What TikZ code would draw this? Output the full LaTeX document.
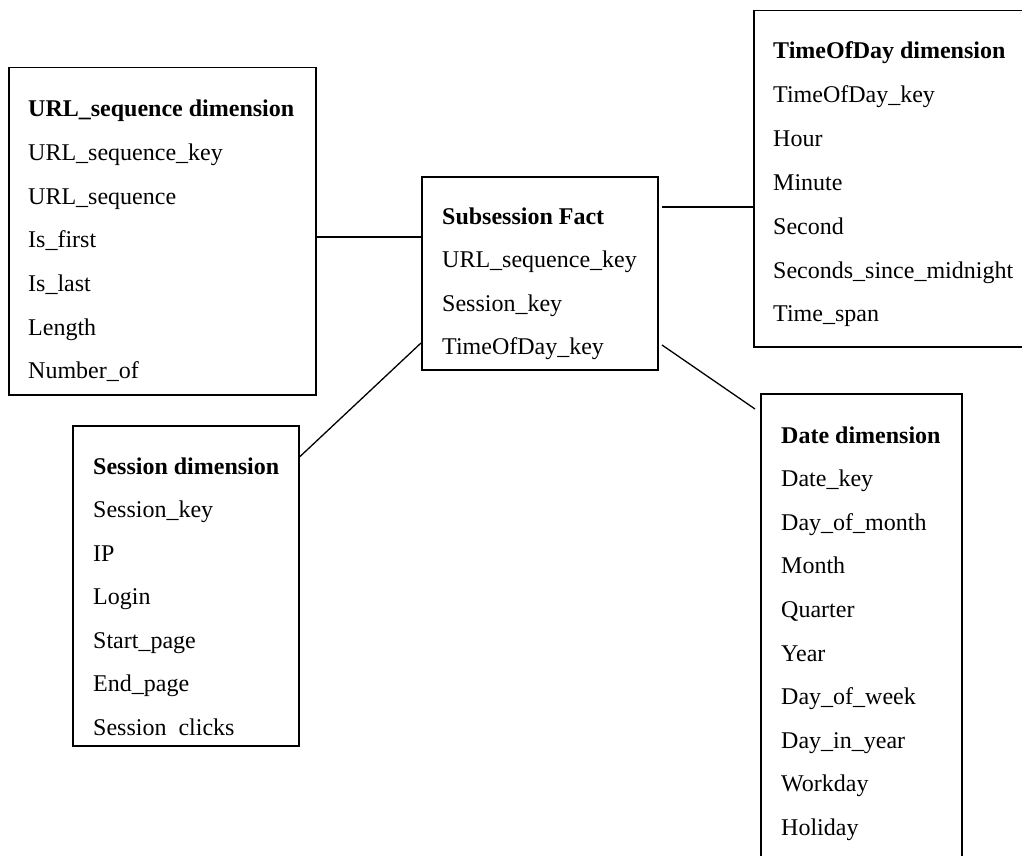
\documentclass[tikz,border=0pt]{standalone}
\usepackage{fontspec}
\setmainfont{Liberation Serif}
\begin{document}
\begin{tikzpicture}[x=1pt,y=-1pt,
  box/.style={draw, line width=1.5pt, rectangle, anchor=north west, inner sep=0pt},
  txt/.style={anchor=base west, inner sep=0pt, font=\fontsize{24}{28}\selectfont},
  ttl/.style={txt, font=\fontsize{24}{28}\selectfont\bfseries},
  conn/.style={line width=1.3pt}]
\useasboundingbox (0,0) rectangle (1022,856);
\clip (0,0) rectangle (1022,856);
% boxes
\node[box, minimum width=307pt, minimum height=327pt] (url) at (8,67) {};
\node[box, minimum width=236pt, minimum height=193pt] (fact) at (421,176) {};
\node[box, minimum width=300pt, minimum height=336pt] (time) at (753,10) {};
\node[box, minimum width=226pt, minimum height=320pt] (sess) at (72,425) {};
\node[box, minimum width=201pt, minimum height=500pt] (date) at (760,393) {};
% URL_sequence dimension
\node[ttl] (u0) at (28,117) {URL\_sequence dimension};
\node[txt] (u1) at (28,160.6) {URL\_sequence\_key};
\node[txt] (u2) at (28,204.2) {URL\_sequence};
\node[txt] (u3) at (28,247.8) {Is\_first};
\node[txt] (u4) at (28,291.4) {Is\_last};
\node[txt] (u5) at (28,335) {Length};
\node[txt] (u6) at (28,378.6) {Number\_of};
% Subsession Fact
\node[ttl] (f0) at (442,224) {Subsession Fact};
\node[txt] (f1) at (442,267.6) {URL\_sequence\_key};
\node[txt] (f2) at (442,311.2) {Session\_key};
\node[txt] (f3) at (442,354.8) {TimeOfDay\_key};
% TimeOfDay dimension
\node[ttl] (t0) at (773,59) {TimeOfDay dimension};
\node[txt] (t1) at (773,102.8) {TimeOfDay\_key};
\node[txt] (t2) at (773,146.6) {Hour};
\node[txt] (t3) at (773,190.4) {Minute};
\node[txt] (t4) at (773,234.2) {Second};
\node[txt] (t5) at (773,278) {Seconds\_since\_midnight};
\node[txt] (t6) at (773,321.8) {Time\_span};
% Session dimension
\node[ttl] (s0) at (93,474) {Session dimension};
\node[txt] (s1) at (93,517.5) {Session\_key};
\node[txt] (s2) at (93,561) {IP};
\node[txt] (s3) at (93,604.5) {Login};
\node[txt] (s4) at (93,648) {Start\_page};
\node[txt] (s5) at (93,691.5) {End\_page};
\node[txt] (s6) at (93,735) {Session\phantom{\_}clicks};
% Date dimension
\node[ttl] (d0) at (781,443) {Date dimension};
\node[txt] (d1) at (781,486.6) {Date\_key};
\node[txt] (d2) at (781,530.2) {Day\_of\_month};
\node[txt] (d3) at (781,573.8) {Month};
\node[txt] (d4) at (781,617.4) {Quarter};
\node[txt] (d5) at (781,661) {Year};
\node[txt] (d6) at (781,704.6) {Day\_of\_week};
\node[txt] (d7) at (781,748.2) {Day\_in\_year};
\node[txt] (d8) at (781,791.8) {Workday};
\node[txt] (d9) at (781,835.4) {Holiday};
% connectors
\coordinate (c1) at (0,237);
\coordinate (c2) at (662,207);
\coordinate (c3) at (0,343);
\coordinate (c4) at (0,457);
\coordinate (c5) at (662,345);
\coordinate (c6) at (755,409);
\draw[conn] (url.east |- c1) -- (fact.west |- c1);
\draw[conn] (c2) -- (time.west |- c2);
\draw[conn] (fact.west |- c3) -- (sess.east |- c4);
\draw[conn] (c5) -- (c6);
\end{tikzpicture}
\end{document}
